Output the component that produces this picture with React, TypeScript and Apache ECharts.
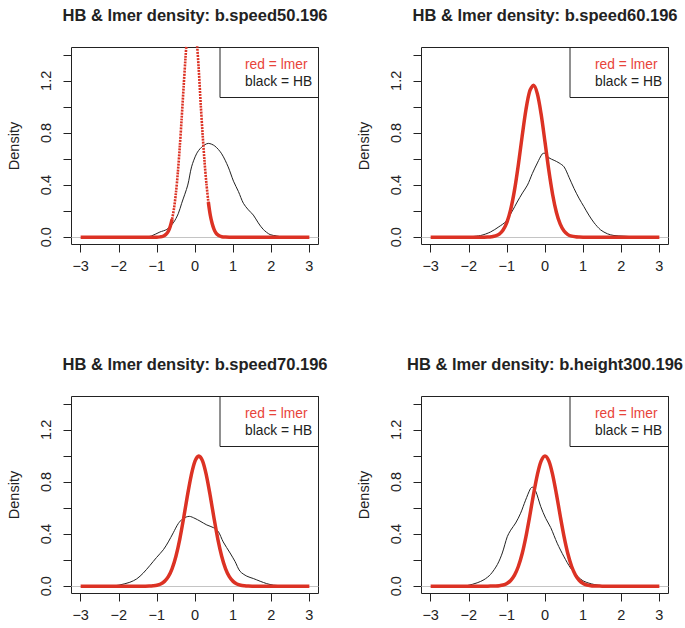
import React, { useEffect, useRef } from 'react';
import * as echarts from 'echarts';

const FONT = '"Liberation Sans", Arial, Helvetica, sans-serif';
const RED = '#dc3224';
const RED_TEXT = '#e8443a';
const INK = '#222222';

const titles = [
  'HB & lmer density: b.speed50.196',
  'HB & lmer density: b.speed60.196',
  'HB & lmer density: b.speed70.196',
  'HB & lmer density: b.height300.196',
];
const xTicks = [-3, -2, -1, 0, 1, 2, 3];
const yTicks = [0, 0.2, 0.4, 0.6, 0.8, 1.0, 1.2, 1.4];
const yLabels = [0, 0.4, 0.8, 1.2];
const yAxisTitle = 'Density';
const legendRed = 'red = lmer';
const legendBlack = 'black = HB';

// Panel 1: b.speed50.196
const black1X = [-1.3, -1.14, -0.92, -0.74, -0.57, -0.44, -0.35, -0.19, -0.09, 0.04, 0.17, 0.35, 0.52, 0.7, 0.87, 1.01, 1.14, 1.27, 1.4, 1.53, 1.66, 1.79, 1.97, 2.14, 2.3];
const black1Y = [0, 0.01, 0.04, 0.06, 0.11, 0.18, 0.26, 0.4, 0.54, 0.64, 0.69, 0.72, 0.7, 0.64, 0.54, 0.43, 0.35, 0.26, 0.21, 0.17, 0.11, 0.06, 0.02, 0.01, 0];
const red1X = [-3, -1.0, -0.9, -0.85, -0.8, -0.75, -0.7, -0.65, -0.6, -0.55, -0.5, -0.45, -0.4, -0.35, -0.3, -0.25, -0.2, -0.15, -0.1, -0.05, 0, 0.05, 0.1, 0.15, 0.2, 0.25, 0.3, 0.35, 0.4, 0.45, 0.5, 0.55, 0.6, 0.65, 0.7, 0.8, 0.9, 3];
const red1Y = [0, 0, 0.003, 0.006, 0.013, 0.025, 0.046, 0.082, 0.139, 0.222, 0.341, 0.497, 0.69, 0.911, 1.147, 1.374, 1.569, 1.704, 1.763, 1.737, 1.63, 1.49, 1.28, 1.02, 0.79, 0.58, 0.41, 0.27, 0.17, 0.105, 0.06, 0.033, 0.018, 0.009, 0.004, 0.001, 0, 0];

// Panel 2: b.speed60.196
const black2X = [-2.1, -1.69, -1.43, -1.21, -1.03, -0.86, -0.73, -0.59, -0.46, -0.33, -0.2, -0.07, 0, 0.1, 0.24, 0.37, 0.5, 0.63, 0.76, 0.89, 1.02, 1.15, 1.29, 1.46, 1.64, 1.81, 2.07, 2.34, 2.6];
const black2Y = [0, 0.013, 0.04, 0.08, 0.12, 0.2, 0.27, 0.34, 0.4, 0.49, 0.57, 0.64, 0.645, 0.61, 0.59, 0.57, 0.54, 0.46, 0.375, 0.3, 0.235, 0.17, 0.11, 0.056, 0.026, 0.013, 0.008, 0.003, 0];
const red2X = [-3, -1.6, -1.5, -1.4, -1.3, -1.2, -1.1, -1.0, -0.9, -0.8, -0.7, -0.6, -0.5, -0.4, -0.3, -0.2, -0.1, 0, 0.1, 0.2, 0.3, 0.4, 0.5, 0.6, 0.7, 0.8, 0.9, 1.0, 3];
const red2Y = [0, 0, 0.001, 0.004, 0.01, 0.024, 0.055, 0.114, 0.213, 0.361, 0.555, 0.774, 0.978, 1.122, 1.167, 1.1, 0.941, 0.73, 0.513, 0.328, 0.19, 0.1, 0.047, 0.02, 0.008, 0.003, 0.001, 0, 0];

// Panel 3: b.speed70.196
const black3X = [-2.2, -1.97, -1.71, -1.53, -1.36, -1.18, -1.01, -0.83, -0.7, -0.57, -0.44, -0.31, -0.15, 0, 0.13, 0.31, 0.48, 0.61, 0.74, 0.92, 1.05, 1.18, 1.36, 1.53, 1.71, 1.88, 2.06, 2.32, 2.5];
const black3Y = [0, 0.01, 0.03, 0.056, 0.1, 0.16, 0.22, 0.28, 0.34, 0.41, 0.48, 0.52, 0.536, 0.52, 0.5, 0.47, 0.45, 0.42, 0.34, 0.255, 0.19, 0.115, 0.077, 0.059, 0.038, 0.02, 0.008, 0.003, 0];
const red3X = [-3, -1.4, -1.3, -1.2, -1.1, -1.0, -0.9, -0.8, -0.7, -0.6, -0.5, -0.4, -0.3, -0.2, -0.1, 0, 0.1, 0.2, 0.3, 0.4, 0.5, 0.6, 0.7, 0.8, 0.9, 1.0, 1.1, 1.2, 1.3, 1.4, 1.5, 1.6, 3];
const red3Y = [0, 0, 0, 0.001, 0.003, 0.007, 0.017, 0.037, 0.073, 0.135, 0.23, 0.36, 0.52, 0.693, 0.849, 0.96, 1.0, 0.96, 0.849, 0.693, 0.52, 0.36, 0.23, 0.135, 0.073, 0.037, 0.017, 0.007, 0.003, 0.001, 0, 0, 0];

// Panel 4: b.height300.196
const black4X = [-2.3, -2.04, -1.78, -1.6, -1.43, -1.25, -1.12, -0.99, -0.9, -0.77, -0.64, -0.51, -0.38, -0.33, -0.245, -0.11, 0.02, 0.15, 0.32, 0.5, 0.67, 0.85, 1.02, 1.29, 1.55, 1.8];
const black4Y = [0, 0.005, 0.026, 0.05, 0.09, 0.166, 0.255, 0.38, 0.43, 0.485, 0.56, 0.66, 0.75, 0.76, 0.73, 0.61, 0.52, 0.45, 0.33, 0.225, 0.14, 0.077, 0.038, 0.013, 0.003, 0];
const red4X = [-3, -1.5, -1.4, -1.3, -1.2, -1.1, -1.0, -0.9, -0.8, -0.7, -0.6, -0.5, -0.4, -0.3, -0.2, -0.1, 0, 0.1, 0.2, 0.3, 0.4, 0.5, 0.6, 0.7, 0.8, 0.9, 1.0, 1.1, 1.2, 1.3, 1.4, 1.5, 3];
const red4Y = [0, 0, 0.001, 0.002, 0.004, 0.009, 0.021, 0.044, 0.085, 0.151, 0.249, 0.381, 0.539, 0.707, 0.857, 0.962, 1.0, 0.962, 0.857, 0.707, 0.539, 0.381, 0.249, 0.151, 0.085, 0.044, 0.021, 0.009, 0.004, 0.002, 0.001, 0, 0];

const panels = [
  { bx: black1X, by: black1Y, rx: red1X, ry: red1Y, dotted: [-0.6, 0.35] as number[] | null },
  { bx: black2X, by: black2Y, rx: red2X, ry: red2Y, dotted: null },
  { bx: black3X, by: black3Y, rx: red3X, ry: red3Y, dotted: null },
  { bx: black4X, by: black4Y, rx: red4X, ry: red4Y, dotted: null },
];

const GRID_POS = [
  { left: 71.5, top: 47.5 },
  { left: 421.5, top: 47.5 },
  { left: 71.5, top: 396.5 },
  { left: 421.5, top: 396.5 },
];
const GW = 247;
const GH = 197;
const TITLE_Y = [15, 15, 363.5, 363.5];

const zip = (xs: number[], ys: number[]) => xs.map((x, i) => [x, ys[i]]);
const fmtX = (v: number) => (v < 0 ? '\u2212' + String(-v) : String(v));

export default function App() {
  const ref = useRef<HTMLDivElement>(null);
  useEffect(() => {
    if (!ref.current) return;
    const chart = echarts.init(ref.current, undefined, { renderer: 'svg' });
    const grid: any[] = [];
    const xAxis: any[] = [];
    const yAxis: any[] = [];
    const series: any[] = [];
    const title: any[] = [];
    const legend: any[] = [];
    const graphic: any[] = [];

    panels.forEach((p, i) => {
      const g = GRID_POS[i];
      grid.push({
        left: g.left, top: g.top, width: GW, height: GH,
        show: true, borderColor: INK, borderWidth: 1, backgroundColor: 'transparent',
      });
      xAxis.push({
        type: 'value', gridIndex: i, min: -3.24, max: 3.24, position: 'bottom',
        axisLine: { show: false, onZero: false },
        splitLine: { show: false },
        axisTick: { show: true, inside: false, length: 8, customValues: xTicks, lineStyle: { color: INK } },
        axisLabel: {
          customValues: xTicks, formatter: fmtX, margin: 14,
          fontFamily: FONT, fontSize: 14.5, color: INK,
        },
      });
      yAxis.push({
        type: 'value', gridIndex: i, min: -0.056, max: 1.456, position: 'left',
        axisLine: { show: false, onZero: false },
        splitLine: { show: false },
        axisTick: { show: true, inside: false, length: 8, customValues: yTicks, lineStyle: { color: INK } },
        axisLabel: {
          customValues: yLabels, formatter: (v: number) => v.toFixed(1), rotate: 90, margin: 18,
          fontFamily: FONT, fontSize: 14.5, color: INK,
        },
        name: yAxisTitle, nameLocation: 'middle', nameRotate: 90, nameGap: 50,
        nameTextStyle: { fontFamily: FONT, fontSize: 14.5, color: INK },
      });
      title.push({
        text: titles[i], left: g.left + GW / 2, top: TITLE_Y[i], padding: 0,
        textAlign: 'center', textVerticalAlign: 'middle',
        textStyle: { fontFamily: FONT, fontSize: 16.5, fontWeight: 'bold', color: INK },
      });
      const boxLeft = g.left + 148.5;
      graphic.push({
        type: 'rect', z: 50, silent: true,
        shape: { x: boxLeft, y: g.top, width: GW - 148.5, height: 50 },
        style: { fill: 'none', stroke: INK, lineWidth: 1 },
      });
      legend.push({
        left: boxLeft + 20, top: g.top + 9.7, orient: 'vertical', icon: 'none',
        itemWidth: 0, itemHeight: 14, itemGap: 3, padding: 0, selectedMode: false,
        textStyle: { fontFamily: FONT, fontSize: 13.8, color: INK, lineHeight: 14 },
        data: [
          { name: legendRed, textStyle: { color: RED_TEXT } },
          { name: legendBlack, textStyle: { color: INK } },
        ],
      });

      series.push({
        type: 'line', name: legendBlack, xAxisIndex: i, yAxisIndex: i,
        data: zip(p.bx, p.by), smooth: 0.3, symbol: 'none', showSymbol: false,
        lineStyle: { color: INK, width: 1 }, itemStyle: { color: INK }, z: 2,
        markLine: {
          silent: true, symbol: ['none', 'none'], label: { show: false },
          lineStyle: { color: '#c4c4c4', type: 'solid', width: 1.2 },
          data: [{ yAxis: 0 }], z: 1,
        },
      });
      const all = zip(p.rx, p.ry);
      if (p.dotted) {
        const [a, b] = p.dotted;
        const left = all.filter((d) => d[0] <= a);
        const mid = all.filter((d) => d[0] >= a && d[0] <= b);
        const right = all.filter((d) => d[0] >= b);
        [left, right].forEach((d) => series.push({
          type: 'line', name: legendRed, xAxisIndex: i, yAxisIndex: i,
          data: d, smooth: 0.3, symbol: 'none', showSymbol: false,
          lineStyle: { color: RED, width: 3.5 }, itemStyle: { color: RED }, z: 3,
        }));
        series.push({
          type: 'line', name: legendRed, xAxisIndex: i, yAxisIndex: i,
          data: mid, smooth: 0.3, symbol: 'none', showSymbol: false,
          lineStyle: { color: RED, width: 2.6, type: [2, 1] }, itemStyle: { color: RED }, z: 3,
        });
      } else {
        series.push({
          type: 'line', name: legendRed, xAxisIndex: i, yAxisIndex: i,
          data: all, smooth: 0.3, symbol: 'none', showSymbol: false,
          lineStyle: { color: RED, width: 3.5 }, itemStyle: { color: RED }, z: 3,
        });
      }
    });

    chart.setOption({
      animation: false,
      backgroundColor: '#ffffff',
      title, legend, grid, xAxis, yAxis, series, graphic,
    });
    return () => chart.dispose();
  }, []);
  return <div ref={ref} style={{ position: 'absolute', left: 0, top: 0, width: 685, height: 628 }} />;
}
